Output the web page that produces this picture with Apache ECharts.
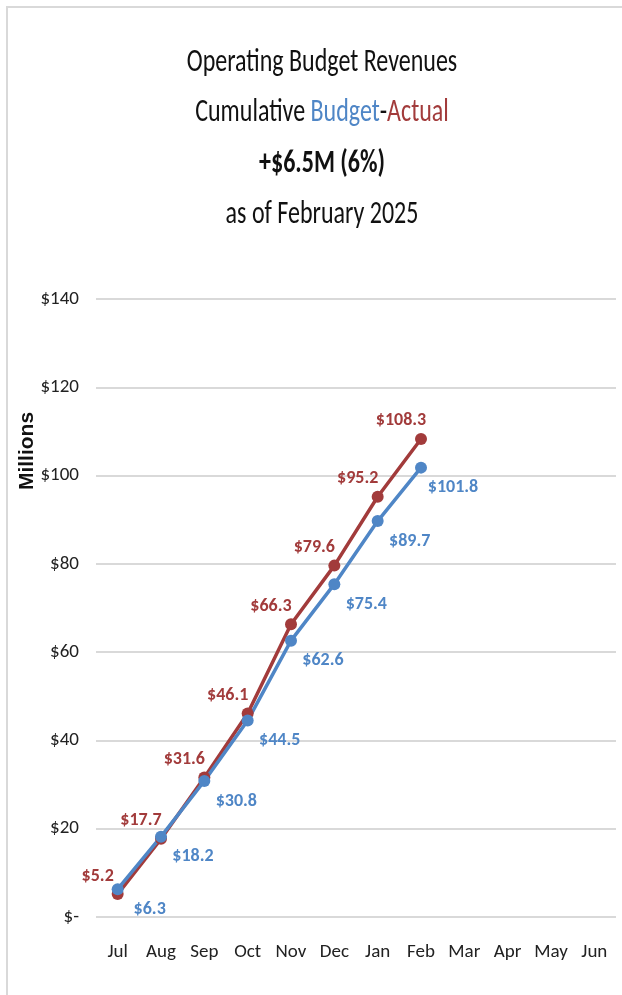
<!DOCTYPE html>
<html>
<head>
<meta charset="utf-8">
<script src="https://cdn.jsdelivr.net/npm/echarts@6/dist/echarts.min.js"></script>
<style>
  html, body { margin: 0; padding: 0; background: #fff; }
  #chart { width: 622px; height: 995px; }
</style>
</head>
<body>
<div id="chart"></div>
<script>
var months = ["Jul", "Aug", "Sep", "Oct", "Nov", "Dec", "Jan", "Feb", "Mar", "Apr", "May", "Jun"];
var actual = [5.2, 17.7, 31.6, 46.1, 66.3, 79.6, 95.2, 108.3];
var budget = [6.3, 18.2, 30.8, 44.5, 62.6, 75.4, 89.7, 101.8];
var yTicks = { min: 0, max: 140, step: 20 };

var red = "#A23B3B";
var blue = "#4F86C6";
// Carlito is metric-compatible with Calibri
var font = "Carlito, 'Open Sans', sans-serif";

var chart = echarts.init(document.getElementById("chart"));
chart.setOption({
  animation: false,
  textStyle: { fontFamily: font },
  graphic: [
    {
      type: "polyline",
      shape: { points: [[7, 995], [7, 7], [622, 7]] },
      style: { stroke: "#d9d9d9", lineWidth: 2, fill: null },
      silent: true
    },
    {
      // title, slightly stretched vertically like the source image
      type: "text",
      x: 322,
      y: 37,
      scaleY: 1.34,
      style: {
        text: "Operating Budget Revenues\nCumulative {b|Budget}-{a|Actual}\n{bold|+$6.5M (6%)}\nas of February 2025",
        font: "24px " + font,
        fill: "#111",
        align: "center",
        verticalAlign: "top",
        lineHeight: 38,
        rich: {
          b: { fill: blue, fontSize: 24, fontFamily: font, lineHeight: 38 },
          a: { fill: red, fontSize: 24, fontFamily: font, lineHeight: 38 },
          bold: { fontWeight: "bold", fontSize: 24, fontFamily: font, fill: "#111", lineHeight: 38 }
        }
      }
    },
    {
      type: "text",
      x: 27,
      y: 451,
      rotation: Math.PI / 2,
      style: {
        text: "Millions",
        font: "bold 21px 'Liberation Sans', Arial, sans-serif",
        fill: "#111",
        align: "center",
        verticalAlign: "middle"
      }
    }
  ],
  grid: { left: 96, right: 6, top: 299, bottom: 78 },
  xAxis: {
    type: "category",
    data: months,
    boundaryGap: true,
    axisLine: { show: false },
    axisTick: { show: false },
    axisLabel: { interval: 0, color: "#222", fontSize: 19, margin: 26, fontFamily: font }
  },
  yAxis: {
    type: "value",
    min: yTicks.min,
    max: yTicks.max,
    interval: yTicks.step,
    axisLine: { show: false },
    axisTick: { show: false },
    splitLine: { lineStyle: { color: "#d9d9d9", width: 2 } },
    axisLabel: {
      color: "#222",
      fontSize: 19,
      margin: 17,
      fontFamily: font,
      formatter: function (v) { return v === 0 ? "$-" : "$" + v; }
    }
  },
  series: [
    {
      name: "Actual",
      type: "line",
      data: actual,
      symbol: "circle",
      symbolSize: 12,
      lineStyle: { color: red, width: 3.5 },
      itemStyle: { color: red },
      label: {
        show: true,
        position: "top",
        offset: [-20, 2],
        color: red,
        fontWeight: "bold",
        fontSize: 18,
        fontFamily: font,
        formatter: function (p) { return "$" + p.value.toFixed(1); }
      }
    },
    {
      name: "Budget",
      type: "line",
      data: budget,
      symbol: "circle",
      symbolSize: 12,
      lineStyle: { color: blue, width: 3.5 },
      itemStyle: { color: blue },
      label: {
        show: true,
        position: "bottom",
        offset: [32, 0],
        color: blue,
        fontWeight: "bold",
        fontSize: 18,
        fontFamily: font,
        formatter: function (p) { return "$" + p.value.toFixed(1); }
      }
    }
  ]
});
</script>
</body>
</html>
